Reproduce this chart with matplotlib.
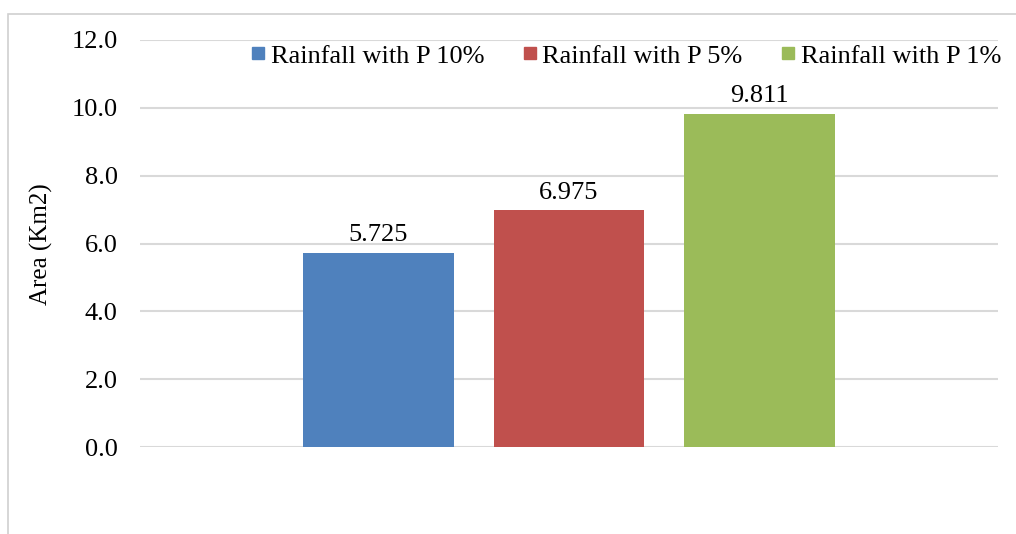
import matplotlib
matplotlib.use("Agg")
import matplotlib.pyplot as plt
from matplotlib.patches import Rectangle
from matplotlib.lines import Line2D

series = ["Rainfall with P 10%", "Rainfall with P 5%", "Rainfall with P 1%"]
values = [5.725, 6.975, 9.811]
labels = ["5.725", "6.975", "9.811"]
colors = ["#4F81BD", "#C0504D", "#9BBB59"]
yticks = [0, 2, 4, 6, 8, 10, 12]

W, H = 1016, 534
FS = 19
fig = plt.figure(figsize=(W / 100, H / 100), dpi=100)
plt.rcParams['font.family'] = ['Liberation Serif', 'DejaVu Serif']

# outer frame
fig.patches.append(Rectangle((8 / W, -0.1), 1.2, (H - 14) / H + 0.1, transform=fig.transFigure,
                             fill=False, edgecolor="#d0d0d0", linewidth=1.2))

ax = fig.add_axes([140 / W, (H - 447) / H, (998 - 140) / W, (447 - 40) / H])
offsets = [-0.222, 0.0, 0.222]
width = 0.175
for off, v, c, lab, s in zip(offsets, values, colors, labels, series):
    ax.bar(off, v, width=width, color=c, zorder=3, label=s)
    ax.text(off, v + 0.2, lab, ha="center", va="bottom", fontsize=FS)

ax.set_xlim(-0.5, 0.5)
ax.set_ylim(0, 12)
ax.set_yticks(yticks)
ax.set_yticklabels([f"{t:.1f}" for t in yticks], fontsize=FS)
ax.set_xticks([])
for sp in ax.spines.values():
    sp.set_visible(False)
ax.tick_params(axis="y", length=0, pad=16)
ax.yaxis.grid(True, color="#d9d9d9", linewidth=1.5, zorder=0)
ax.set_ylabel("Area (Km2)", fontsize=FS - 1)
ax.yaxis.set_label_coords((53 - 140) / (998 - 140), (447 - 244) / (447 - 40))

handles = [Line2D([], [], marker="s", linestyle="none", markersize=8.2, color=c) for c in colors]
fig.legend(handles, series, loc="center right", bbox_to_anchor=(1001 / W, (H - 56) / H), ncol=3,
           frameon=False, fontsize=FS, handletextpad=0.17, columnspacing=1.43, handlelength=0.6,
           borderaxespad=0, borderpad=0)

fig.savefig("out.png", dpi=100)
